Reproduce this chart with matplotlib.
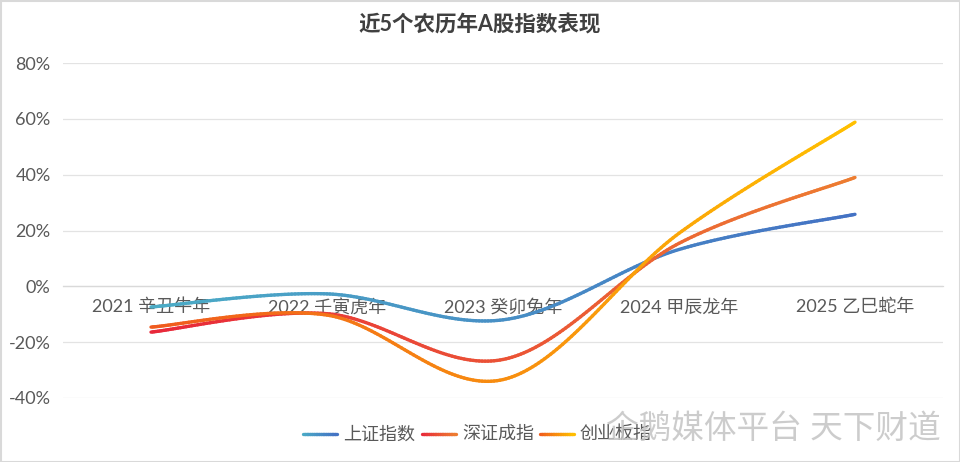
import matplotlib
matplotlib.use("Agg")
import matplotlib.pyplot as plt
import numpy as np
from matplotlib.collections import LineCollection
from matplotlib.colors import to_rgb
from matplotlib.patches import Rectangle

plt.rcParams['font.family'] = ['Lato', 'Noto Sans CJK SC', 'DejaVu Sans']
plt.rcParams['axes.unicode_minus'] = False

# data (percent change per lunar year)
categories = ["2021 辛丑牛年", "2022 壬寅虎年", "2023 癸卯兔年", "2024 甲辰龙年", "2025 乙巳蛇年"]
sh_index = [-7.4, -2.7, -12.0, 13.2, 25.8]
sz_index = [-16.4, -9.8, -26.2, 15.4, 39.0]
cy_index = [-14.6, -10.3, -33.4, 19.0, 58.8]
series_names = ["上证指数", "深证成指", "创业板指"]
y_ticks = [-40, -20, 0, 20, 40, 60, 80]

GRID = "#e3e3e3"
TEXT = "#595959"
TITLE = "#404040"
GRADIENTS = [("#4bacc6", "#4472c4"),
             ("#e8283a", "#ed7d31"),
             ("#f05a1e", "#ffc000")]


def smooth(xs, ys, n=60):
    # Catmull-Rom style bezier, close to Excel's smoothed line
    pts = np.column_stack([xs, ys]).astype(float)
    out = []
    m = len(pts)
    for i in range(m - 1):
        p0 = pts[i - 1] if i > 0 else pts[i]
        p1 = pts[i]
        p2 = pts[i + 1]
        p3 = pts[i + 2] if i + 2 < m else pts[i + 1]
        c1 = p1 + (p2 - p0) / 6
        c2 = p2 - (p3 - p1) / 6
        t = np.linspace(0, 1, n)[:, None]
        seg = ((1 - t) ** 3) * p1 + 3 * ((1 - t) ** 2) * t * c1 \
            + 3 * (1 - t) * t ** 2 * c2 + t ** 3 * p2
        out.append(seg if i == 0 else seg[1:])
    return np.vstack(out)


def gradient_line(ax, pts, c0, c1, lw, x0, x1, zorder=3, transform=None):
    segs = np.stack([pts[:-1], pts[1:]], axis=1)
    mid = (pts[:-1, 0] + pts[1:, 0]) / 2
    f = np.clip((mid - x0) / (x1 - x0), 0, 1)[:, None]
    cols = (1 - f) * np.array(to_rgb(c0)) + f * np.array(to_rgb(c1))
    kw = {}
    if transform is not None:
        kw["transform"] = transform
    lc = LineCollection(segs, colors=cols, linewidths=lw, capstyle="round",
                        joinstyle="round", zorder=zorder, **kw)
    ax.add_collection(lc)


fig = plt.figure(figsize=(9.6, 4.62), dpi=100)
ax = fig.add_axes([63 / 960, 1 - 398 / 462, 880 / 960, 335 / 462])

x = np.arange(len(categories))
for vals, (c0, c1) in zip([sh_index, sz_index, cy_index], GRADIENTS):
    pts = smooth(x, vals)
    gradient_line(ax, pts, c0, c1, 2.4, x[0], x[-1])

ax.set_xlim(-0.5, len(categories) - 0.5)
ax.set_ylim(-40, 80)
ax.set_yticks(y_ticks)
ax.set_yticklabels([f"{v}%" for v in y_ticks])
ax.set_xticks(x)
ax.set_xticklabels(categories)
ax.grid(axis="y", color=GRID, linewidth=0.9)
ax.set_axisbelow(True)
for side in ["left", "right", "top"]:
    ax.spines[side].set_visible(False)
ax.spines["bottom"].set_position(("data", 0))
ax.spines["bottom"].set_color("#d9d9d9")
ax.spines["bottom"].set_linewidth(0.9)
ax.tick_params(axis="both", length=0, labelsize=13, labelcolor=TEXT)
ax.tick_params(axis="y", pad=9)
ax.tick_params(axis="x", pad=9)

fig.text(0.5, 1 - 25 / 462, "近5个农历年A股指数表现", ha="center", va="center",
         fontsize=15.5, fontweight="bold", color=TITLE)

# overlay in pixel coordinates for legend, watermark and border
ov = fig.add_axes([0, 0, 1, 1], zorder=5)
ov.set_xlim(0, 960)
ov.set_ylim(462, 0)
ov.axis("off")
ov.patch.set_alpha(0)

leg_y = 434
leg_x = [303, 422, 540]
for lx, name, (c0, c1) in zip(leg_x, series_names, GRADIENTS):
    pts = np.column_stack([np.linspace(lx, lx + 34, 20), np.full(20, leg_y)])
    gradient_line(ov, pts, c0, c1, 2.4, lx, lx + 34)
    ov.text(lx + 40, leg_y, name, ha="left", va="center", fontsize=13, color=TEXT)

ov.text(606, 429, "企鹅媒体平台 天下财道", ha="left", va="center", fontsize=23.5,
        color="#c4c4c4", alpha=0.85, zorder=10)

ov.add_patch(Rectangle((0.5, 0.5), 959, 461, fill=False, edgecolor="#d9d9d9",
                       linewidth=1.5))

fig.savefig("out.png", dpi=100, facecolor="white")
